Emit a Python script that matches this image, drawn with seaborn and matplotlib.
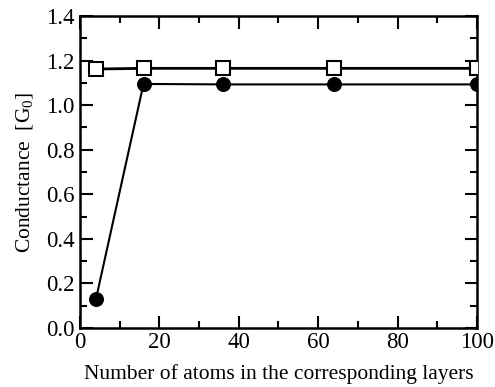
import matplotlib
matplotlib.use("Agg")
import matplotlib.pyplot as plt
import seaborn as sns
import pandas as pd
from matplotlib.ticker import MultipleLocator

atoms = [4, 16, 36, 64, 100]
cond_squares = [1.162, 1.165, 1.165, 1.165, 1.165]
cond_circles = [0.128, 1.095, 1.093, 1.093, 1.093]

sns.set_theme(style="ticks")
plt.rcParams['font.family'] = ['Liberation Serif', 'DejaVu Serif']
plt.rcParams['mathtext.fontset'] = 'custom'
plt.rcParams['mathtext.rm'] = 'Liberation Serif'
plt.rcParams['mathtext.it'] = 'Liberation Serif:italic'

fig = plt.figure(figsize=(4.95, 3.87), dpi=100)
ax = fig.add_axes([0.1616, 0.1525, 0.8020, 0.8062])

df_sq = pd.DataFrame({"x": atoms, "y": cond_squares})
df_ci = pd.DataFrame({"x": atoms, "y": cond_circles})

sns.lineplot(data=df_sq, x="x", y="y", ax=ax, color="black", linewidth=2.0,
             marker="s", markersize=9.5, markerfacecolor="white",
             markeredgecolor="black", markeredgewidth=1.5, zorder=3)
sns.lineplot(data=df_ci, x="x", y="y", ax=ax, color="black", linewidth=1.5,
             marker="o", markersize=10, markerfacecolor="black",
             markeredgecolor="black", zorder=4)

ax.set_xlim(0, 100)
ax.set_ylim(0, 1.4)
ax.xaxis.set_major_locator(MultipleLocator(20))
ax.xaxis.set_minor_locator(MultipleLocator(10))
ax.yaxis.set_major_locator(MultipleLocator(0.2))
ax.yaxis.set_minor_locator(MultipleLocator(0.1))
ax.yaxis.set_major_formatter(matplotlib.ticker.FormatStrFormatter('%.1f'))

ax.tick_params(which="both", direction="in", top=True, right=True,
               color="black", width=1.5, labelsize=16.5, labelcolor="black")
ax.tick_params(which="major", length=9)
ax.tick_params(which="minor", length=5)
ax.tick_params(axis="x", which="major", pad=3)
ax.tick_params(axis="y", which="major", pad=4)
for s in ax.spines.values():
    s.set_linewidth(1.8)
    s.set_color("black")

ax.set_xlabel("Number of atoms in the corresponding layers", fontsize=15.5, color="black", labelpad=8)
ax.set_ylabel(r"Conductance  [G$_0$]", fontsize=15.5, color="black", labelpad=8)

fig.savefig("out.png", dpi=100)
